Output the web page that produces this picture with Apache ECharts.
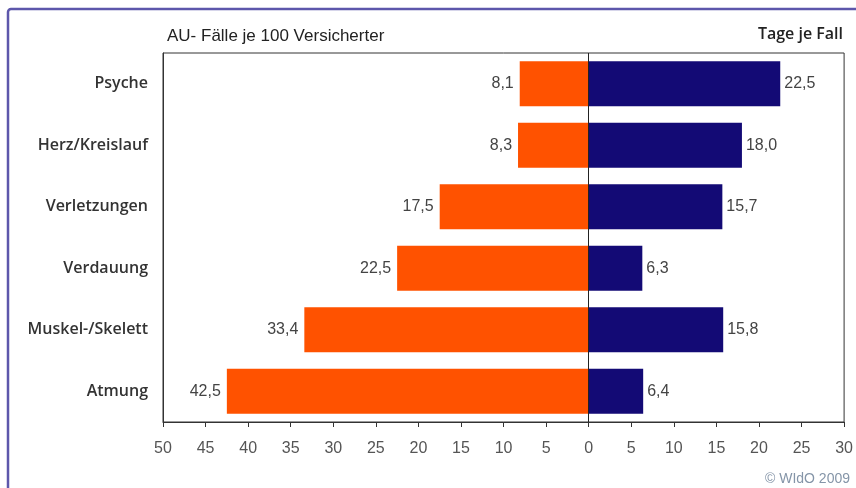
<!DOCTYPE html>
<html><head><meta charset="utf-8">
<script src="https://cdn.jsdelivr.net/npm/echarts@6/dist/echarts.min.js"></script>
<style>html,body{margin:0;padding:0;background:#fff}#c{width:856px;height:488px}</style>
</head><body><div id="c"></div>
<script>
const categories = ['Psyche', 'Herz/Kreislauf', 'Verletzungen', 'Verdauung', 'Muskel-/Skelett', 'Atmung'];
const auFaelle = [8.1, 8.3, 17.5, 22.5, 33.4, 42.5];
const tageJeFall = [22.5, 18.0, 15.7, 6.3, 15.8, 6.4];
const xTicks = {min: -50, max: 30, interval: 5};
const leftTitle = 'AU- Fälle je 100 Versicherter';
const rightTitle = 'Tage je Fall';
const credit = '© WIdO 2009';

const fmt = v => Math.abs(v).toFixed(1).replace('.', ',');
const FONT = 'Liberation Sans, Arial, sans-serif';
const BOLD = '"Open Sans", sans-serif';
const chart = echarts.init(document.getElementById('c'), null, {renderer: 'canvas'});
chart.setOption({
  animation: false,
  backgroundColor: '#fff',
  grid: {left: 163, right: 8, top: 53, bottom: 66, show: true, borderColor: '#333', borderWidth: 1},
  xAxis: {
    type: 'value', min: xTicks.min, max: xTicks.max, interval: xTicks.interval,
    axisLine: {show: true, lineStyle: {color: '#333', width: 1}},
    axisTick: {show: true, length: 5, lineStyle: {color: '#333'}},
    splitLine: {show: false},
    axisLabel: {formatter: v => String(Math.abs(v)), color: '#555', fontSize: 16, fontFamily: FONT, margin: 19}
  },
  yAxis: {
    type: 'category', data: categories, inverse: true,
    axisLine: {show: true, onZero: false, lineStyle: {color: '#333'}},
    axisTick: {show: false},
    axisLabel: {color: '#333', fontSize: 16, fontWeight: 600, fontFamily: BOLD, margin: 15}
  },
  series: [
    {
      type: 'bar', stack: 'a', data: auFaelle.map(v => -v), barWidth: '73%',
      itemStyle: {color: '#ff5200'},
      label: {show: true, position: 'left', distance: 6, formatter: p => fmt(p.value), color: '#444', fontSize: 16, fontFamily: FONT},
      markLine: {silent: true, symbol: 'none', label: {show: false}, lineStyle: {color: '#222', type: 'solid', width: 1}, data: [{xAxis: 0}]}
    },
    {
      type: 'bar', stack: 'a', data: tageJeFall, barWidth: '73%',
      itemStyle: {color: '#130a75'},
      label: {show: true, position: 'right', distance: 4, formatter: p => fmt(p.value), color: '#444', fontSize: 16, fontFamily: FONT}
    }
  ],
  graphic: [
    {type: 'rect', shape: {x: 8, y: 9, width: 900, height: 600, r: 3}, style: {fill: 'none', stroke: '#5d57ab', lineWidth: 2.5}, silent: true, z: 100},
    {type: 'text', left: 167, top: 28, style: {text: leftTitle, fill: '#222', font: '17px ' + FONT}},
    {type: 'text', right: 13, top: 26, style: {text: rightTitle, fill: '#222', font: '600 16px ' + BOLD}},
    {type: 'text', left: 765, top: 472, style: {text: credit, fill: '#8595a8', font: '14px ' + FONT}}
  ]
});
</script></body></html>
